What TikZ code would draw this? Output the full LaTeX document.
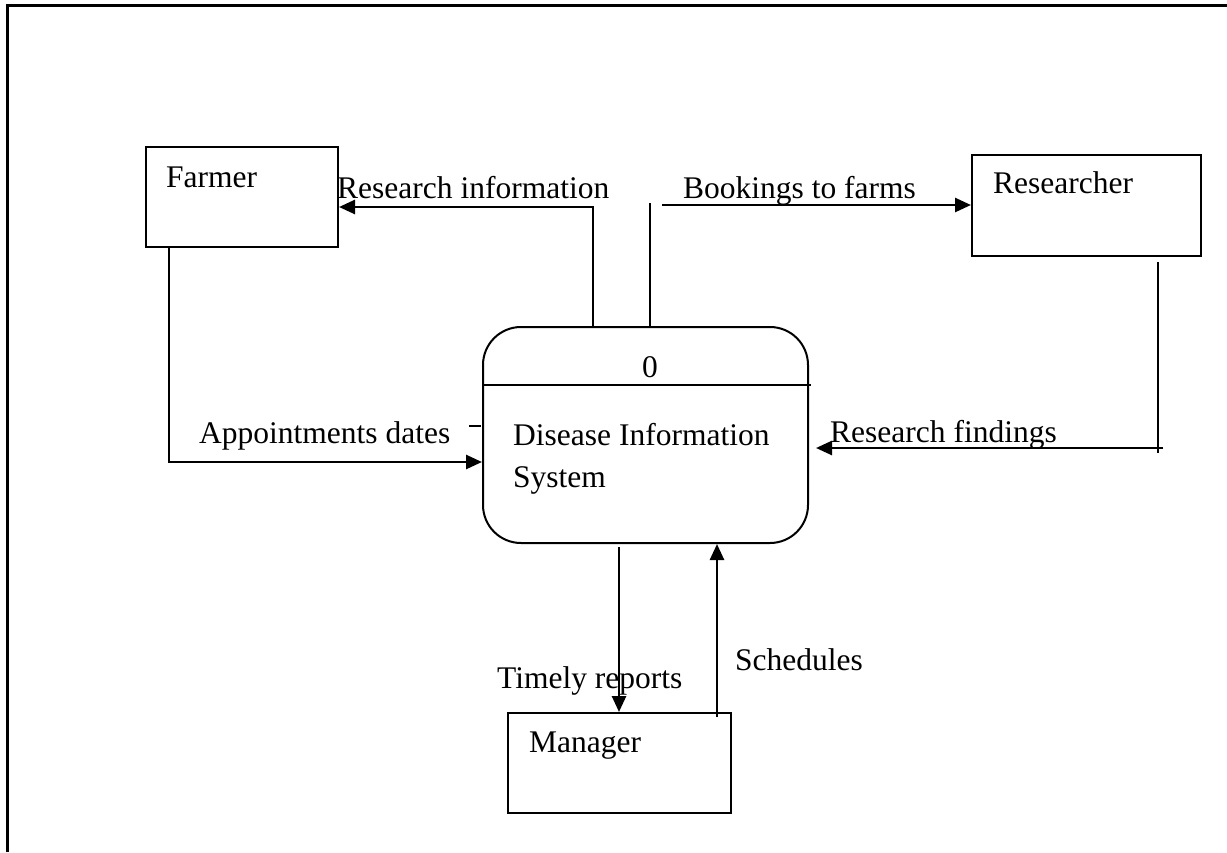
\documentclass[tikz,border=0pt]{standalone}
\usepackage{fontspec}
\setmainfont{Liberation Serif}
\usetikzlibrary{arrows.meta}
\begin{document}
\begin{tikzpicture}[x=1pt,y=-1pt,
  every node/.style={font=\fontsize{31.5}{42}\selectfont},
  entity/.style={draw,line width=2pt,rectangle,inner sep=0pt},
  process/.style={draw,line width=2pt,rectangle,rounded corners=38pt,inner sep=0pt},
  txt/.style={inner sep=0pt,anchor=base west},
  wire/.style={line width=2.2pt},
  flow/.style={line width=2.6pt,-{Triangle[length=16pt,width=14pt]}}
]
\useasboundingbox (0,0) rectangle (1227,852);
\fill[white] (0,0) rectangle (1227,852);

% page frame
\draw[line width=3pt] (7,852) -- (7,5) -- (1227,5);

% external entities and the process
\node[entity,minimum width=192pt,minimum height=100pt] (farmer) at (242,197) {};
\node[entity,minimum width=229pt,minimum height=101pt] (researcher) at (1086.5,205.5) {};
\node[entity,minimum width=223pt,minimum height=100pt] (manager) at (619.5,763) {};
\node[process,minimum width=325pt,minimum height=216pt] (proc) at (645.5,435) {};
\draw[line width=1.6pt] (proc.west |- 0,385) -- ([xshift=2pt]proc.east |- 0,385);

% entity and process texts
\node[txt] (farmerT) at (166,187) {Farmer};
\node[txt] (researcherT) at (993,193) {Researcher};
\node[txt] (managerT) at (529,752) {Manager};
\node[inner sep=0pt,anchor=base] (procId) at (650,377) {0};
\node[txt] (procT1) at (513,445) {Disease Information};
\node[txt] (procT2) at (513,487) {System};

% flow labels
\node[txt] (lRI) at (337,198) {Research information};
\node[txt] (lBF) at (683,198) {Bookings to farms};
\node[txt] (lAD) at (199,443) {Appointments dates};
\node[txt] (lRF) at (830,442) {Research findings};
\node[txt] (lTR) at (497,688) {Timely reports};
\node[txt] (lSC) at (735,670) {Schedules};

% bend and end points of the flows
\coordinate (riBend) at (593,207);
\coordinate (bkTop) at (650,203);
\coordinate (bkStart) at (662,205);
\coordinate (rfTop) at (1158,262);
\coordinate (rfBot) at (1158,453);
\coordinate (rfStart) at (1163,448);
\coordinate (adBend) at (169,462);
\coordinate (adTickL) at (469,426);
\coordinate (adTickR) at (481,426);
\coordinate (trStart) at (619,547);
\coordinate (scStart) at (717,717);

% Research information: process -> Farmer
\draw[flow] (proc.north -| riBend) -- (riBend) -- (farmer.east |- riBend);
% Bookings to farms: process -> Researcher
\draw[wire] ([yshift=-2pt]proc.north -| bkTop) -- (bkTop);
\draw[flow] (bkStart) -- (researcher.west |- bkStart);
% Research findings: Researcher -> process
\draw[wire] (rfTop) -- (rfBot);
\draw[flow,shorten >=7pt] (rfStart) -- (proc.east |- rfStart);
% Appointments dates: Farmer -> process
\draw[flow] (farmer.south -| adBend) -- (adBend) -- (proc.west |- adBend);
\draw[line width=1.6pt] (adTickL) -- (adTickR);
% Timely reports: process -> Manager
\draw[flow] (trStart) -- (manager.north -| trStart);
% Schedules: Manager -> process
\draw[flow] (scStart) -- (proc.south -| scStart);
\end{tikzpicture}
\end{document}
